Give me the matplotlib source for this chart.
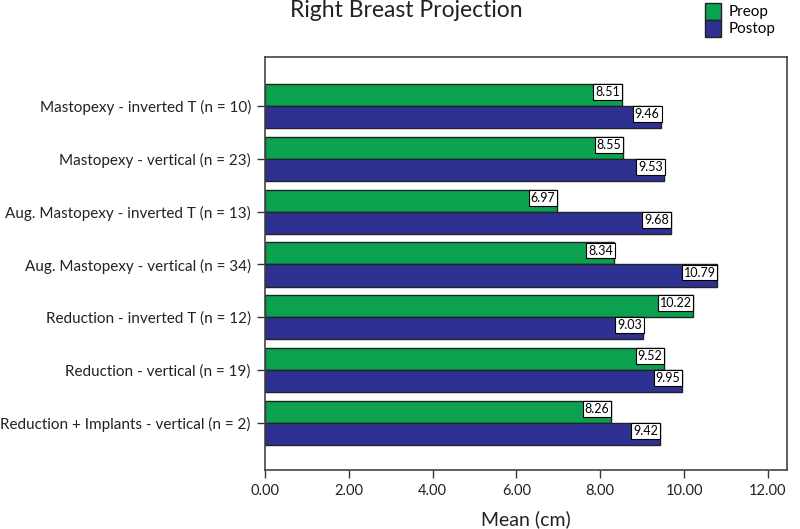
import numpy as np
import matplotlib
matplotlib.use('Agg')
import matplotlib.pyplot as plt

plt.rcParams['font.family'] = ['Lato', 'DejaVu Sans']

categories = [
    'Mastopexy - inverted T (n = 10)',
    'Mastopexy - vertical (n = 23)',
    'Aug. Mastopexy - inverted T (n = 13)',
    'Aug. Mastopexy - vertical (n = 34)',
    'Reduction - inverted T (n = 12)',
    'Reduction - vertical (n = 19)',
    'Reduction + Implants - vertical (n = 2)',
]
preop = [8.51, 8.55, 6.97, 8.34, 10.22, 9.52, 8.26]
postop = [9.46, 9.53, 9.68, 10.79, 9.03, 9.95, 9.42]
xticks = [0, 2, 4, 6, 8, 10, 12]

green = '#0aa14f'
blue = '#2e3192'
edge = '#222222'

fig = plt.figure(figsize=(8.0, 5.29), dpi=100)
ax = fig.add_axes([0.331, 0.112, 0.653, 0.780])

y = np.arange(len(categories))
h = 0.418
bars_pre = ax.barh(y - h / 2, preop, height=h, color=green, edgecolor=edge, lw=1.0, label='Preop')
bars_post = ax.barh(y + h / 2, postop, height=h, color=blue, edgecolor=edge, lw=1.0, label='Postop')

# value labels in white boxes at the end of each bar
for bars, vals in [(bars_pre, preop), (bars_post, postop)]:
    for b, v in zip(bars, vals):
        ax.text(v - 0.04, b.get_y() + 0.04, f'{v:.2f}', ha='right', va='top', fontsize=9,
                bbox=dict(boxstyle='square,pad=0.15', fc='white', ec='black', lw=0.8))

ax.set_yticks(y)
ax.set_yticklabels(categories, fontsize=11, color='#222222')
ax.set_ylim(6.89, -0.93)
ax.set_xlim(0, 12.46)
ax.set_xticks(xticks)
ax.set_xticklabels([f'{t:.2f}' for t in xticks], fontsize=10.5, color='#222222')
ax.tick_params(axis='both', direction='out', length=6, width=1, color='#333333', pad=4)
for s in ax.spines.values():
    s.set_color('#444444')
    s.set_linewidth(1.2)

ax.set_xlabel('Mean (cm)', fontsize=14, labelpad=9, color='#222222')

fig.text(0.508, 0.981, 'Right Breast Projection', ha='center', va='center', fontsize=16.5, color='#222222')

fig.legend(handles=[bars_pre, bars_post], loc='upper left', bbox_to_anchor=(0.870, 1.012),
           frameon=False, handlelength=1.05, handleheight=1.32, labelspacing=0.0,
           handletextpad=0.5, fontsize=11, borderaxespad=0.2)

fig.savefig('out.png', dpi=100)
